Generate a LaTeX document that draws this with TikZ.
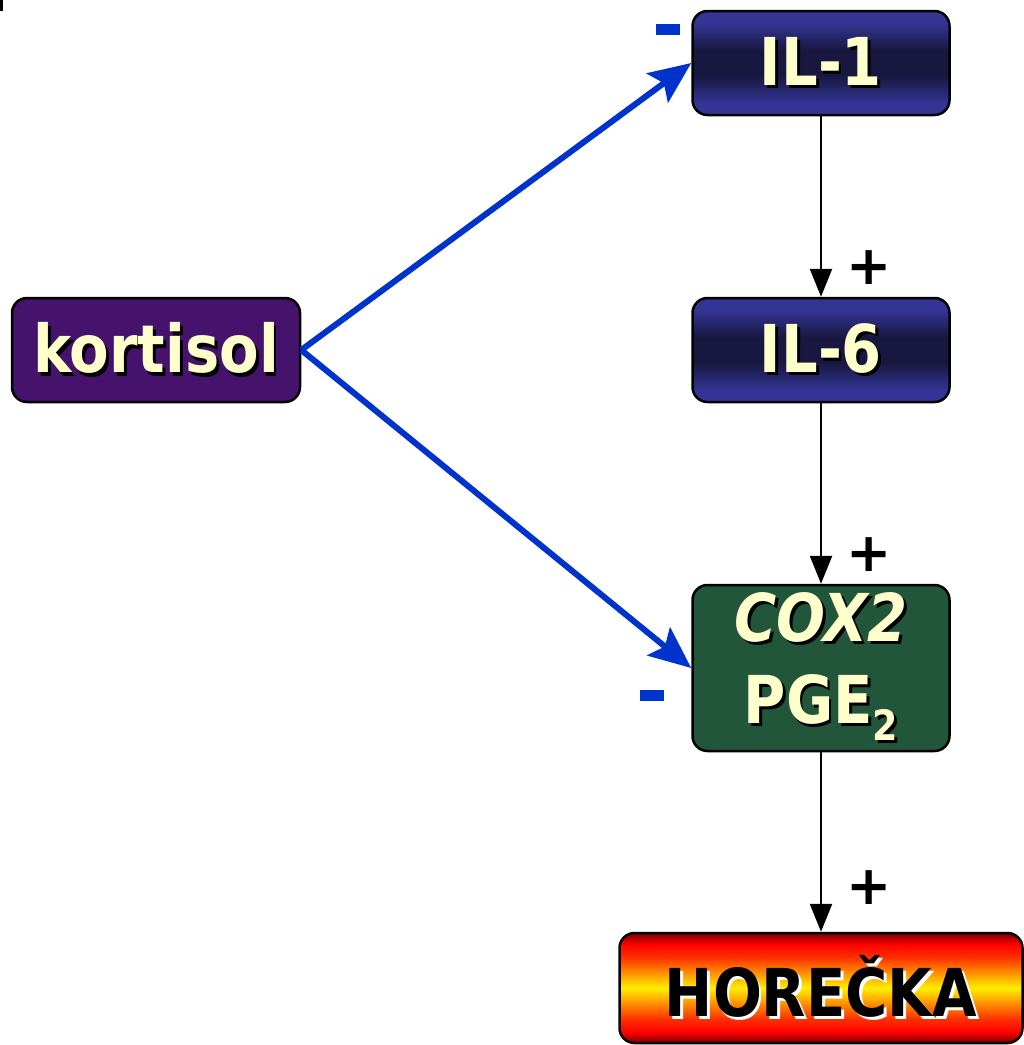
\documentclass[tikz,border=0pt]{standalone}
\usepackage{fontspec}
\setmainfont{DejaVu Sans}
\usetikzlibrary{arrows.meta}
\definecolor{ilhi}{HTML}{343494}
\definecolor{illo}{HTML}{17173F}
\definecolor{kort}{HTML}{45126C}
\definecolor{coxg}{HTML}{22563A}
\definecolor{txt}{HTML}{FFFFCC}
\definecolor{arrblue}{HTML}{0033CC}
\definecolor{fdark}{HTML}{780000}
\definecolor{fred}{HTML}{FF0000}
\definecolor{forange}{HTML}{FF3000}
\definecolor{fyel}{HTML}{FFEE00}
\pgfdeclareverticalshading{ilshade}{100bp}{color(0bp)=(ilhi); color(25bp)=(ilhi); color(31bp)=(ilhi); color(44bp)=(illo); color(56bp)=(illo); color(69bp)=(ilhi); color(75bp)=(ilhi); color(100bp)=(ilhi)}
\pgfdeclareverticalshading{fireshade}{100bp}{color(0bp)=(fdark); color(25bp)=(fdark); color(30bp)=(fred); color(36bp)=(forange); color(50bp)=(fyel); color(64bp)=(forange); color(70bp)=(fred); color(75bp)=(fdark); color(100bp)=(fdark)}
\newcommand\shd[3]{\leavevmode\rlap{\kern3pt\raisebox{-3pt}{\color{#2}#3}}{\color{#1}#3}}
\newcommand\tall[1]{\scalebox{0.96}[1.1]{#1}}
\tikzset{
  box/.style={draw=black, line width=2.5pt, rounded corners=15pt, minimum width=257pt,
    minimum height=104pt, inner sep=0pt, font=\fontsize{60}{80}\selectfont\bfseries, align=center},
  ilbox/.style={box, shading=ilshade},
  kortbox/.style={box, fill=kort, minimum width=288pt},
  coxbox/.style={box, fill=coxg, minimum height=166pt},
  firebox/.style={box, shading=fireshade, minimum width=403pt, minimum height=110pt},
  inhib/.style={draw=arrblue, line width=6pt, -{Stealth[length=42pt,width=36pt,inset=8pt]}},
  stim/.style={draw=black, line width=2.5pt, -{Triangle[length=28pt,width=22pt]}},
  plussign/.style={font=\fontsize{54}{54}\selectfont\bfseries, inner sep=0pt},
  minussign/.style={fill=arrblue, minimum width=24pt, minimum height=11pt, inner sep=0pt}
}
\begin{document}
\begin{tikzpicture}[x=1pt,y=-1pt]
\useasboundingbox (0,0) rectangle (1024,1045);
\fill[black] (0,0) rectangle (3,11);
\node[kortbox] (kort) at (156,350) {\tall{\shd{txt}{black}{kortisol}}};
\node[ilbox] (il1) at (821,63) {\tall{\shd{txt}{black}{IL-1}}};
\node[ilbox] (il6) at (821,350) {\tall{\shd{txt}{black}{IL-6}}};
\node[coxbox] (cox) at (821,668) {\tall{\shd{txt}{black}{\itshape COX2}}\\[2pt]\tall{\shd{txt}{black}{PGE\raisebox{-15pt}{\fontsize{38}{38}\selectfont 2}}}};
\node[firebox] (fever) at (821,988) {\tall{\shd{black}{white}{HOREČKA}}};
\draw[inhib] (kort.east) -- (il1.west);
\draw[inhib] (kort.east) -- (cox.west);
\draw[stim] (il1.south) -- (il6.north);
\draw[stim] (il6.south) -- (cox.north);
\draw[stim] (cox.south) -- (fever.north);
\node[plussign] (p1) at (869,268) {+};
\node[plussign] (p2) at (869,555) {+};
\node[plussign] (p3) at (869,888) {+};
\node[minussign] (m1) at (668,29) {};
\node[minussign] (m2) at (652,695) {};
\end{tikzpicture}
\end{document}
